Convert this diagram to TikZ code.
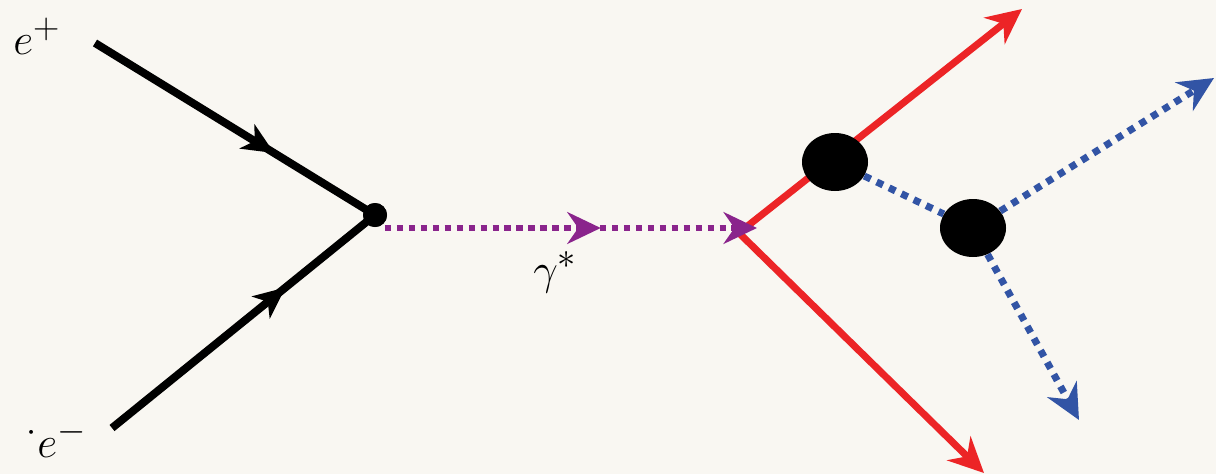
\documentclass[tikz,border=0pt]{standalone}
\usetikzlibrary{arrows.meta,decorations.markings,shapes.geometric}
\definecolor{paper}{RGB}{249,247,242}
\definecolor{quarkred}{RGB}{236,36,38}
\definecolor{photonpurple}{RGB}{138,36,140}
\definecolor{mesonblue}{RGB}{50,84,165}
\begin{document}
\begin{tikzpicture}[x=0.02cm,y=-0.02cm,
  lbl/.style={inner sep=0pt,font=\fontsize{31}{37}\selectfont},
  fermion/.style={line width=4.5pt,black},
  midarrow/.style={postaction={decorate},decoration={markings,
      mark=at position #1 with {\arrow{Stealth[length=18pt,width=16pt,inset=5pt]}}}},
  photon/.style={line width=3.6pt,photonpurple,dash pattern=on 3.6pt off 3.2pt},
  quark/.style={line width=4pt,quarkred,-{Stealth[length=20pt,width=19pt]}},
  meson/.style={line width=4pt,mesonblue,dash pattern=on 4pt off 3.8pt},
  mesonarrow/.style={meson,-{Stealth[length=20pt,width=19pt,fill=mesonblue]}},
  blob/.style={ellipse,fill=black,minimum width=66*0.02cm,minimum height=58*0.02cm,inner sep=0pt},
]
% background and page size
\fill[paper] (0,0) rectangle (1216,474);
\useasboundingbox (0,0) rectangle (1216,474);

% points and vertices
\coordinate (ep) at (95,43);
\coordinate (em) at (112,428);
\node[circle,fill=black,minimum size=24*0.02cm,inner sep=0pt] (v) at (375,215) {};
\coordinate (gs) at (385,228);
\coordinate (ge) at (757,228);
\coordinate (q) at (745,228);
\coordinate (qb) at (738,232);
\coordinate (qt) at (1022,9);
\coordinate (qd) at (984,473);
\coordinate (mt) at (1214,78);
\coordinate (md) at (1079,420);

% incoming leptons
\draw[fermion,midarrow=0.64] (ep) -- (v.center);
\draw[fermion,midarrow=0.66] (em) -- (v.center);
\node[circle,fill=black,minimum size=24*0.02cm,inner sep=0pt] at (v) {};

% outgoing quarks
\draw[quark] (q) -- (qt);
\draw[quark] (qb) -- (qd);

% virtual photon
\draw[photon,-{Stealth[length=19pt,width=18pt,fill=photonpurple]},
  postaction={decorate},decoration={markings,
    mark=at position 0.58 with {\arrow{Stealth[length=19pt,width=18pt,fill=photonpurple]}}}]
  (gs) -- (ge);

% hadronisation blobs and mesons
\node[blob] (b1) at (835,162) {};
\node[blob] (b2) at (973,228) {};
\draw[meson] (b1) -- (b2);
\draw[mesonarrow] (b2) -- (mt);
\draw[mesonarrow] (b2) -- (md);

% labels
\node[lbl,anchor=base west] (lp) at (13,54) {$e^{+}$};
\node[lbl,anchor=base west] (lm) at (26,457) {$^{\cdot}e^{-}$};
\node[lbl,anchor=base west] (lg) at (533,284) {$\gamma^{*}$};
\end{tikzpicture}
\end{document}
